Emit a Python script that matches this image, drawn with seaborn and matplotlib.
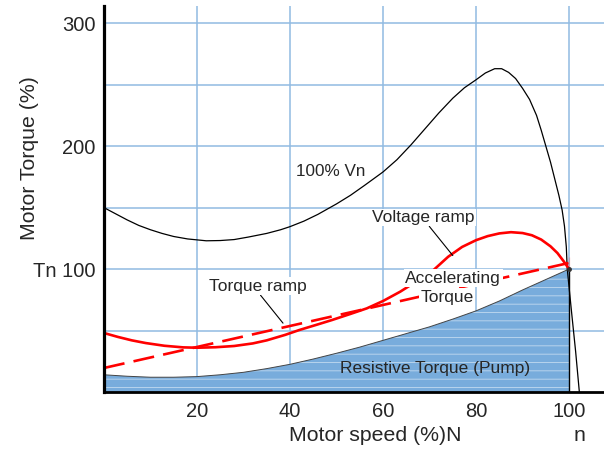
import matplotlib
matplotlib.use("Agg")
import matplotlib.pyplot as plt
import seaborn as sns

# courbes
speed_vn = [0, 2.5, 5, 7.5, 10, 12.5, 15, 18, 22, 25, 28, 31, 35, 38, 40, 43, 46, 50, 53, 56,
            60, 63, 66, 69, 72, 75, 77.5, 80, 82, 84, 85.5, 87, 88.5, 90, 91.5, 93, 94, 95,
            96, 97, 97.8, 98.5, 99, 99.4, 99.6, 100.5, 101.4, 102.2]
torque_vn = [150, 145, 140, 135.5, 132, 129, 126.5, 124.5, 123, 123.2, 124, 126, 129, 132, 134.5, 139, 144.5, 153, 160, 168,
             179, 189, 201, 214, 227, 239, 247.5, 254, 259.5, 263, 263, 260, 255, 247, 238, 225, 213, 200,
             187, 172, 160, 148, 135, 118, 100, 66, 33, 0]

speed_volt = [0, 3, 6, 9, 13, 17, 20, 24, 28, 32, 35, 39, 42, 46, 49, 53, 56.5, 60, 63.7, 67,
              70.8, 74, 77, 80, 82.5, 85, 87.5, 90, 92, 94, 96, 97.5, 98.8, 100]
torque_volt = [48, 44.8, 42, 39.8, 37.6, 36.3, 36, 36.4, 37.4, 39.5, 42, 46.5, 50.4, 55, 58.5, 63.5, 68, 74, 81.6, 89.5,
               99, 110, 118, 123.5, 126.8, 129, 130, 129.3, 127.5, 124, 118.5, 113, 106.5, 100]

speed_tramp = [0, 100, 100]
torque_tramp = [19.5, 110, 100]

speed_res = [0, 5, 10, 15, 20, 25, 30, 35, 40, 45, 50, 55, 60, 65, 70, 75, 80, 85, 90, 95, 100]
torque_res = [14, 12.8, 12, 12, 12.5, 14, 16, 19, 22.5, 26.8, 31.5, 36.5, 42, 47.5, 53, 59.3, 66, 74, 83, 91.5, 100]

x_ticks = [20, 40, 60, 80, 100]
y_ticks = [100, 200, 300]
y_tick_labels = ["Tn 100", "200", "300"]

sns.set_style("white")
plt.rcParams['font.family'] = ['Liberation Sans', 'DejaVu Sans']
plt.rcParams['hatch.linewidth'] = 0.6

fig = plt.figure(figsize=(6.04, 4.49), dpi=100)
ax = fig.add_axes([0.172, 0.127, 0.828, 0.8596])

grid_col = '#91bbe2'
# zone remplie (couple resistant de la pompe)
ax.fill_between(speed_res, torque_res, facecolor='#78acdc', edgecolor=(1, 1, 1, 0.55), hatch='--',
                linewidth=0, zorder=2)
sns.lineplot(x=speed_res, y=torque_res, ax=ax, color='#444444', linewidth=0.7, zorder=3)
ax.plot([speed_res[-1], speed_res[-1]], [0, torque_res[-1]], color='black', linewidth=1.0, zorder=3)

sns.lineplot(x=speed_vn, y=torque_vn, ax=ax, color='black', linewidth=0.9, zorder=4)
sns.lineplot(x=speed_volt, y=torque_volt, ax=ax, color='#ff0000', linewidth=1.9, zorder=5)
sns.lineplot(x=speed_tramp, y=torque_tramp, ax=ax, color='#ff0000', linewidth=1.9, sort=False,
             linestyle=(0, (8, 3.5)), zorder=5)
ax.plot(100, 100, marker='o', markersize=2.5, color='#333333', zorder=6)

ax.set_xlim(0, 107.5)
ax.set_ylim(0, 314)
ax.set_xticks(x_ticks)
ax.set_yticks(y_ticks)
ax.set_yticklabels(y_tick_labels)
ax.set_yticks([50, 150, 250], minor=True)
ax.grid(True, which='both', color=grid_col, linewidth=1.1, zorder=0)
ax.set_axisbelow(True)
ax.tick_params(axis='both', which='both', length=0, labelsize=14.5)
ax.tick_params(axis='x', pad=7)
ax.tick_params(axis='y', pad=6)

for s in ['top', 'right']:
    ax.spines[s].set_visible(False)
ax.spines['left'].set_linewidth(2.3)
ax.spines['bottom'].set_linewidth(2.0)
ax.spines['left'].set_color('black')
ax.spines['bottom'].set_color('black')
ax.spines['left'].set_zorder(7)
ax.spines['bottom'].set_zorder(7)

ax.set_xlabel("Motor speed (%)N", fontsize=15.3)
ax.xaxis.set_label_coords(0.542, -0.088)
ax.set_ylabel("Motor Torque (%)", fontsize=15.3)
ax.yaxis.set_label_coords(-0.13, 0.607)
ax.text(0.952, -0.088, "n", transform=ax.transAxes, ha='center', va='top', fontsize=15.3)

# etiquettes
box = dict(facecolor='white', edgecolor='none', pad=1)
ax.text(48.8, 179, "100% Vn", ha='center', va='center', fontsize=12.3, zorder=8)
ax.annotate("Voltage ramp", xy=(75, 111), xytext=(68.6, 142), ha='center', va='center', fontsize=12.5,
            bbox=box, zorder=8,
            arrowprops=dict(arrowstyle='-', color='black', lw=0.8, shrinkA=0, shrinkB=0, relpos=(0.55, 0)))
ax.annotate("Torque ramp", xy=(38.5, 56), xytext=(33, 86), ha='center', va='center', fontsize=12.5,
            bbox=box, zorder=8,
            arrowprops=dict(arrowstyle='-', color='black', lw=0.8, shrinkA=0, shrinkB=0, relpos=(0.52, 0)))
ax.text(75.1, 92.7, "Accelerating", ha='center', va='center', fontsize=12.5, bbox=box, zorder=8)
ax.text(73.8, 77.2, "Torque", ha='center', va='center', fontsize=12.5, bbox=box, zorder=8)
ax.text(71.2, 18.7, "Resistive Torque (Pump)", ha='center', va='center', fontsize=12.5, zorder=8)

fig.savefig("out.png", dpi=100)
